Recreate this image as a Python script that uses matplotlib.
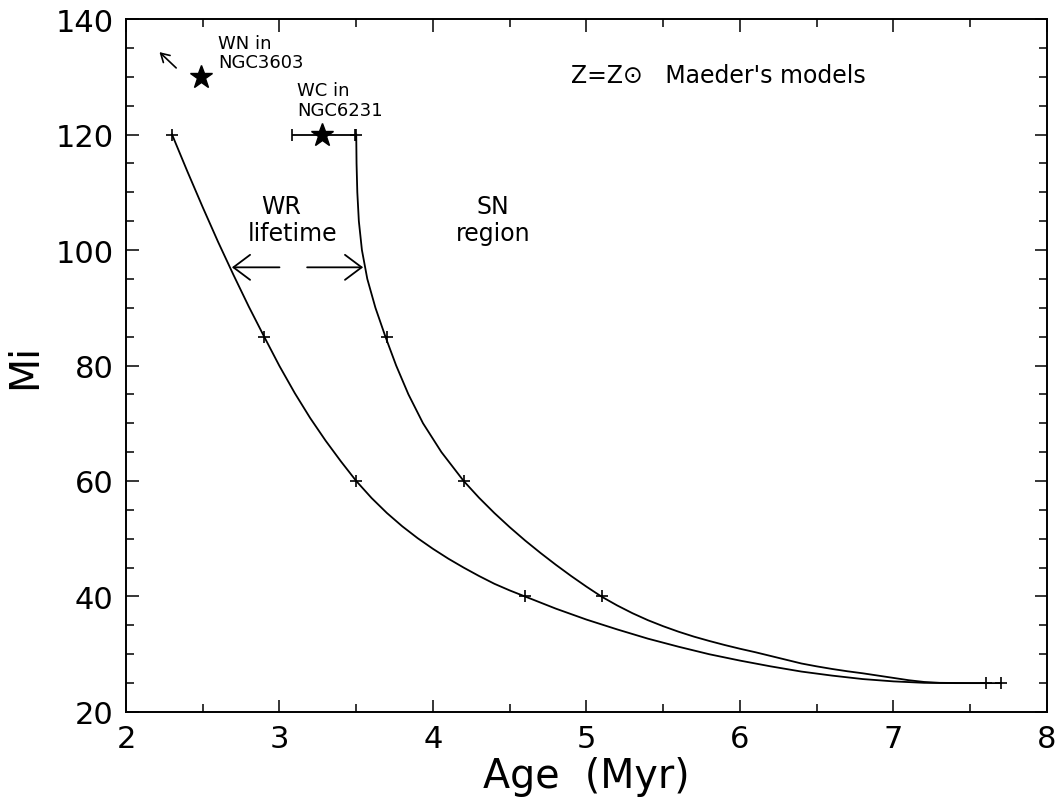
import matplotlib
matplotlib.use("Agg")
import matplotlib.pyplot as plt
from matplotlib.ticker import MultipleLocator
from matplotlib.patches import FancyArrowPatch

# model points (crosses)
age_start = [2.3, 2.9, 3.5, 4.6, 7.6]
mass_start = [120, 85, 60, 40, 25]
age_end = [3.5, 3.7, 4.2, 5.1, 7.7]
mass_end = [120, 85, 60, 40, 25]

# curves
curve_lo_age = [2.3, 2.4, 2.5, 2.6, 2.7, 2.8, 2.9, 3.0, 3.1, 3.2, 3.3, 3.4, 3.5,
                3.6, 3.7, 3.8, 3.9, 4.0, 4.1, 4.2, 4.3, 4.4, 4.5, 4.6, 4.8, 5.0,
                5.2, 5.4, 5.6, 5.8, 6.0, 6.2, 6.4, 6.6, 6.8, 7.0, 7.2, 7.4, 7.6]
curve_lo_mass = [120, 113.6, 107.4, 101.4, 95.7, 90.2, 85.0, 79.9, 75.2, 70.9, 67.0,
                 63.4, 60.0, 57.05, 54.45, 52.15, 50.1, 48.25, 46.55, 45.0, 43.55,
                 42.2, 41.05, 40.0, 37.9, 36.0, 34.3, 32.7, 31.3, 30.0, 28.9, 27.9,
                 27.0, 26.3, 25.7, 25.3, 25.05, 25.0, 25.0]
curve_hi_age = [3.500, 3.502, 3.507, 3.517, 3.537, 3.572, 3.625, 3.690, 3.760, 3.840,
                3.935, 4.055, 4.2, 4.3, 4.4, 4.5, 4.6, 4.7, 4.8, 4.9, 5.0, 5.1, 5.2,
                5.3, 5.4, 5.5, 5.6, 5.7, 5.8, 5.9, 6.0, 6.1, 6.2, 6.3, 6.4, 6.5, 6.6,
                6.7, 6.8, 6.9, 7.0, 7.1, 7.2, 7.3, 7.5, 7.7]
curve_hi_mass = [120, 115, 110, 105, 100, 95, 90, 85, 80, 75, 70, 65, 60, 57.1, 54.45,
                 52.0, 49.7, 47.55, 45.5, 43.55, 41.7, 39.95, 38.45, 37.1, 35.9, 34.85,
                 33.9, 33.05, 32.3, 31.6, 30.95, 30.35, 29.7, 29.05, 28.4, 27.9, 27.45,
                 27.05, 26.7, 26.3, 25.9, 25.5, 25.2, 25.05, 25.0, 25.0]

# observed clusters
wn_age, wn_mass = 2.49, 130
wc_age, wc_mass = 3.28, 120
wc_err_lo, wc_err_hi = 0.20, 0.21

plt.rcParams['font.family'] = ['DejaVu Sans']
fig = plt.figure(figsize=(10.57, 8.04), dpi=100)
ax = fig.add_axes([0.1192, 0.1132, 0.8713, 0.8619])

ax.plot(curve_lo_age, curve_lo_mass, color='black', lw=1.3)
ax.plot(curve_hi_age, curve_hi_mass, color='black', lw=1.3)
ax.plot(age_start, mass_start, '+', color='black', ms=8, mew=1.2)
ax.plot(age_end, mass_end, '+', color='black', ms=8, mew=1.2)

ax.errorbar(wc_age, wc_mass, xerr=[[wc_err_lo], [wc_err_hi]], fmt='none',
            ecolor='black', elinewidth=1.3, capsize=4, capthick=1.2)
ax.plot(wc_age, wc_mass, '*', color='black', ms=17)
ax.plot(wn_age, wn_mass, '*', color='black', ms=17)

# arrows
ax.add_patch(FancyArrowPatch((2.34, 131.2), (2.205, 134.6),
                             arrowstyle='->,head_length=0.6,head_width=0.35',
                             mutation_scale=10, lw=1.2, color='black'))
ax.add_patch(FancyArrowPatch((3.00, 97), (2.69, 97),
                             arrowstyle='->,head_length=1.2,head_width=0.9',
                             mutation_scale=10, lw=1.3, color='black',
                             shrinkA=0, shrinkB=0))
ax.add_patch(FancyArrowPatch((3.18, 97), (3.545, 97),
                             arrowstyle='->,head_length=1.2,head_width=0.9',
                             mutation_scale=10, lw=1.3, color='black',
                             shrinkA=0, shrinkB=0))

# labels inside plot
ax.text(2.60, 137.4, 'WN in\nNGC3603', fontsize=13, va='top', ha='left', linespacing=1.1)
ax.text(3.115, 129.2, 'WC in\nNGC6231', fontsize=13, va='top', ha='left', linespacing=1.1)
ax.text(4.90, 130.3, 'Z=Z\u2299   Maeder\'s models', fontsize=17, va='center', ha='left')
ax.text(3.014, 107.7, 'WR', fontsize=17, va='center', ha='center')
ax.text(3.086, 103.0, 'lifetime', fontsize=17, va='center', ha='center')
ax.text(4.39, 107.7, 'SN', fontsize=17, va='center', ha='center')
ax.text(4.39, 103.0, 'region', fontsize=17, va='center', ha='center')

ax.set_xlim(2, 8)
ax.set_ylim(20, 140)
ax.xaxis.set_major_locator(MultipleLocator(1))
ax.xaxis.set_minor_locator(MultipleLocator(0.5))
ax.yaxis.set_major_locator(MultipleLocator(20))
ax.yaxis.set_minor_locator(MultipleLocator(5))
ax.tick_params(which='both', direction='in', top=True, right=True, width=1.1)
ax.tick_params(which='major', length=9, labelsize=22, pad=9)
ax.tick_params(which='minor', length=6)
for s in ax.spines.values():
    s.set_linewidth(1.4)

ax.set_xlabel('Age  (Myr)', fontsize=28.5, labelpad=2)
ax.set_ylabel('Mi', fontsize=28.5)
ax.yaxis.set_label_coords(-0.088, 0.5)

fig.savefig('out.png', dpi=100)
